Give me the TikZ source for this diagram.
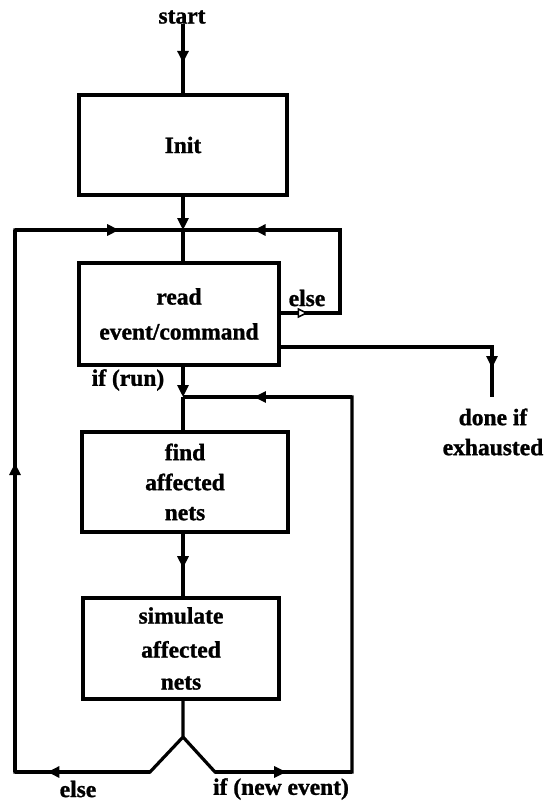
\documentclass[tikz,border=0pt]{standalone}
\usepackage{fontspec}
\setmainfont[BoldFeatures={FakeBold=1.2}]{Liberation Serif}
\usetikzlibrary{arrows.meta,decorations.markings}

\tikzset{
  every node/.style={font=\fontsize{23.5}{30}\selectfont\bfseries, inner sep=0pt},
  box/.style={draw, line width=3.2pt, align=center, line join=miter},
  flow/.style={line width=3.2pt, line join=miter},
  tip/.style={arrows={-Triangle[length=12pt,width=11pt]}},
  tipat/.style={postaction={decorate, decoration={markings,
      mark=at position #1 with {\arrow{Triangle[length=12pt,width=11pt]}}}}},
  opentipat/.style={postaction={decorate, decoration={markings,
      mark=at position #1 with {\arrow{Triangle[open,length=11pt,width=10pt,fill=white,line width=1.6pt]}}}}},
  lbl/.style={align=center}
}

\begin{document}
\begin{tikzpicture}[x=1pt, y=-1pt]
  \useasboundingbox (0,0) rectangle (546,801);

  % boxes
  \node[box, minimum width=208pt, minimum height=100pt] (init) at (183,145) {Init};
  \node[box, minimum width=200pt, minimum height=102pt] (read) at (179,314)
    {read\\[5pt]event/command};
  \node[box, minimum width=206pt, minimum height=100pt] (find) at (185,482)
    {find\\affected\\nets};
  \node[box, minimum width=196pt, minimum height=101pt] (sim) at (181,648.5)
    {simulate\\[4pt]affected\\[2pt]nets};

  % labels
  \node (start) at (182,17) {start};
  \node (done) [lbl] at (493,432) {done if\\exhausted};
  \node (lelse) at (307,298) {else};
  \node (lrun) at (128,380) {if (run)};
  \node (lelse2) at (78,789) {else};
  \node (lnew) at (281,789) {if (new event)};

  % junctions and corners
  \coordinate (j1) at (183,230);
  \coordinate (j2) at (183,397);
  \coordinate (e0) at (read.east |- 0,313);
  \coordinate (e1) at (340,313);
  \coordinate (e2) at (340,230);
  \coordinate (d0) at (read.east |- 0,347);
  \coordinate (d1) at (492,347);
  \coordinate (d2) at (492,397);
  \coordinate (v)  at (183,737);
  \coordinate (l)  at (150,772);
  \coordinate (bl) at (15,772);
  \coordinate (tl) at (15,230);
  \coordinate (r)  at (215,772);
  \coordinate (br) at (352,772);
  \coordinate (tr) at (352,397);

  % main line
  \draw[flow, tipat=0.56] (start.south -| j1) -- (init.north -| j1);
  \draw[flow, tip] (init.south -| j1) -- (j1);
  \draw[flow] (j1) -- (read.north -| j1);

  % else loop back to the reader
  \draw[flow] (e0) -- (e1) -- (e2) -- (j1);
  \path[opentipat=0.47] (e0) -- (e1);
  \draw[flow, tipat=0.55] (e2) -- (j1);

  % exit when input is exhausted
  \draw[flow] (d0) -- (d1) -- (d2);
  \draw[flow, tipat=0.42] (d1) -- (d2);

  % run branch
  \draw[flow, tip] (read.south -| j2) -- (j2);
  \draw[flow] (j2) -- (find.north -| j2);
  \draw[flow, tipat=0.55] (find.south -| j2) -- (sim.north -| j2);

  % fork after simulation
  \draw[flow] (sim.south -| v) -- (v) -- (l) -- (bl) -- (tl) -- (j1);
  \draw[flow] (v) -- (r) -- (br) -- (tr) -- (j2);
  \draw[flow, tipat=0.76] (l) -- (bl);
  \draw[flow, tipat=0.57] (bl) -- (tl);
  \draw[flow, tipat=0.62] (tl) -- (j1);
  \draw[flow, tipat=0.52] (r) -- (br);
  \draw[flow, tipat=0.58] (tr) -- (j2);
\end{tikzpicture}
\end{document}
